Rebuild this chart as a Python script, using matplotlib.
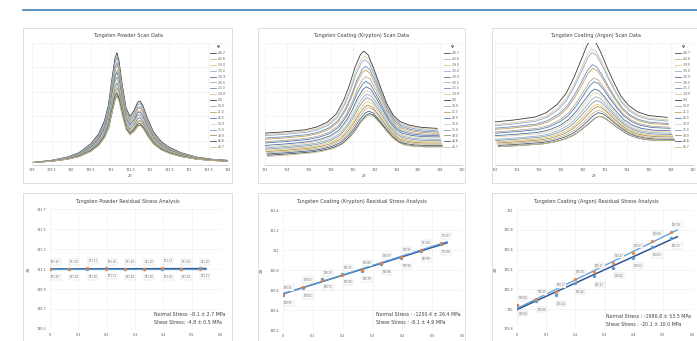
import numpy as np
import matplotlib.pyplot as plt
from matplotlib.patches import Rectangle
from matplotlib.lines import Line2D
from matplotlib.ticker import FuncFormatter

W, H = 697, 341

# psi tilt angles (legend order) and sin^2(psi) positions used in the stress plots
psi = [-46.7, -42.8, -39.0, -35.0, -30.9, -26.5, -21.3, -14.9, 0.0,
       14.9, 21.3, 26.5, 30.9, 35.0, 39.0, 42.8, 46.7]
sin2psi = [0, 0.066, 0.132, 0.198, 0.264, 0.33, 0.396, 0.462, 0.528]

# fitted peak position (2theta) vs sin^2 psi, positive / negative psi branch
pw_pos = [131.10, 131.10, 131.11, 131.10, 131.10, 131.10, 131.11, 131.10, 131.10]
pw_neg = [131.10, 131.10, 131.10, 131.11, 131.10, 131.10, 131.10, 131.10, 131.11]
kr_pos = [130.55, 130.63, 130.70, 130.75, 130.80, 130.87, 130.93, 131.00, 131.07]
kr_neg = [130.55, 130.62, 130.71, 130.76, 130.79, 130.86, 130.92, 130.99, 131.06]
ar_pos = [130.04, 130.10, 130.17, 130.30, 130.37, 130.47, 130.57, 130.69, 130.78]
ar_neg = [130.04, 130.08, 130.14, 130.26, 130.33, 130.42, 130.52, 130.63, 130.72]

# normalised peak profiles
pw_shape_x = [129.0, 129.5, 129.9, 130.2, 130.5, 130.7, 130.85, 130.95, 131.05, 131.12,
              131.17, 131.22, 131.3, 131.4, 131.5, 131.6, 131.7, 131.76, 131.83, 131.95,
              132.1, 132.3, 132.5, 132.8, 133.2, 133.6, 134.0]
pw_shape_y = [0.0, 0.02, 0.05, 0.09, 0.17, 0.26, 0.38, 0.52, 0.78, 0.95,
              1.0, 0.93, 0.72, 0.50, 0.42, 0.47, 0.55, 0.56, 0.52, 0.40,
              0.28, 0.19, 0.14, 0.09, 0.05, 0.03, 0.02]
kr_shape_x = [122, 124, 126, 127, 128, 128.8, 129.5, 130.0, 130.5, 131.0, 131.3,
              131.7, 132.2, 132.8, 133.4, 134.0, 134.6, 135.5, 136.5, 138]
kr_shape_y = [0.0, 0.01, 0.03, 0.06, 0.12, 0.22, 0.40, 0.58, 0.80, 0.96, 1.0,
              0.95, 0.78, 0.55, 0.33, 0.18, 0.10, 0.05, 0.02, 0.0]
ar_shape_x = [122, 124, 126, 127, 128, 128.8, 129.5, 130.2, 130.7, 131.1, 131.5,
              132.0, 132.6, 133.2, 133.8, 134.5, 135.3, 136.3, 138]
ar_shape_y = [0.0, 0.02, 0.05, 0.10, 0.20, 0.33, 0.52, 0.75, 0.92, 1.0, 0.96,
              0.82, 0.62, 0.44, 0.28, 0.16, 0.08, 0.03, 0.0]

# per-scan peak amplitude and background (left end / right end)
pw_amp = [0.55, 0.58, 0.62, 0.66, 0.70, 0.76, 0.82, 0.87, 0.90,
          0.86, 0.80, 0.74, 0.69, 0.65, 0.61, 0.57, 0.54]
pw_base = [0.02] * 17
kr_amp = [0.30, 0.33, 0.36, 0.40, 0.44, 0.50, 0.56, 0.62, 0.65,
          0.60, 0.54, 0.47, 0.42, 0.38, 0.34, 0.31, 0.29]
kr_base_l = [0.08, 0.10, 0.12, 0.14, 0.16, 0.19, 0.22, 0.25, 0.26,
             0.24, 0.21, 0.18, 0.15, 0.13, 0.11, 0.09, 0.07]
kr_base_r = [0.15, 0.17, 0.19, 0.21, 0.23, 0.25, 0.27, 0.29, 0.30,
             0.28, 0.26, 0.24, 0.22, 0.20, 0.18, 0.16, 0.15]
ar_amp = [0.22, 0.25, 0.28, 0.32, 0.36, 0.42, 0.50, 0.60, 0.66,
          0.58, 0.48, 0.40, 0.34, 0.30, 0.27, 0.24, 0.22]
ar_base_l = [0.15, 0.17, 0.19, 0.21, 0.24, 0.27, 0.30, 0.33, 0.35,
             0.32, 0.29, 0.26, 0.23, 0.20, 0.18, 0.16, 0.15]
ar_base_r = [0.20, 0.22, 0.24, 0.26, 0.28, 0.31, 0.34, 0.37, 0.39,
             0.36, 0.33, 0.30, 0.27, 0.25, 0.23, 0.21, 0.20]

titles_top = ["Tungsten Powder Scan Data", "Tungsten Coating (Krypton) Scan Data",
              "Tungsten Coating (Argon) Scan Data"]
titles_bot = ["Tungsten Powder Residual Stress Analysis",
              "Tungsten Coating (Krypton) Residual Stress Analysis",
              "Tungsten Coating (Argon) Residual Stress Analysis"]
stress_text = [("Normal Stress: -8.1 \u00b1 2.7 MPa", "Shear Stress: -4.8 \u00b1 0.5 MPa"),
               ("Normal Stress : -1250.4 \u00b1 26.4 MPa", "Shear Stress : -8.1 \u00b1 4.9 MPa"),
               ("Normal Stress : -1986.8 \u00b1 53.5 MPa", "Shear Stress : -20.1 \u00b1 10.0 MPa")]

colors = ['#2E4C6D', '#C9B37E', '#E3C770', '#9BAFC7', '#4A6FA5', '#B8A99A', '#6C8EBF',
          '#D9C89E', '#3D3D3D', '#8FA9C9', '#C2A35E', '#5A7BA8', '#E0D4A8', '#7F9BB8',
          '#A89060', '#44607F', '#D4BE80']

plt.rcParams['font.family'] = 'DejaVu Sans'
fig = plt.figure(figsize=(W / 100, H / 100), dpi=100)
fmt = FuncFormatter(lambda v, p: f"{v:g}")


def px_axes(x0, y0, x1, y1):
    return fig.add_axes([x0 / W, 1 - y1 / H, (x1 - x0) / W, (y1 - y0) / H])


def centers_for(pos, neg):
    c = []
    for p in psi:
        k = sin2psi_index[abs(p)]
        c.append(pos[k] if p >= 0 else neg[k])
    return np.array(c)


sin2psi_index = {abs(p): i for i, p in enumerate(psi[8:])}

# chart frames and header rule
fig.add_artist(Line2D([23 / W, 1], [1 - 10 / H] * 2, color='#4a8bbf', lw=1.3))
frames = [(23, 28, 232, 183), (258, 28, 465, 183), (492, 28, 699, 183),
          (23, 193, 232, 345), (258, 193, 465, 345), (492, 193, 699, 345)]
for x0, y0, x1, y1 in frames:
    fig.add_artist(Rectangle((x0 / W, 1 - y1 / H), (x1 - x0) / W, (y1 - y0) / H,
                             transform=fig.transFigure, fill=False, ec='#d9d9d9', lw=0.6))

# ---- top row: scan data ----
top_axes = [px_axes(32, 43, 228, 165), px_axes(265, 43, 462, 165), px_axes(495, 43, 693, 165)]
scan_sets = [
    (pw_shape_x, pw_shape_y, pw_amp, pw_base, pw_base, centers_for(pw_pos, pw_neg), (129, 134), np.arange(129, 134.01, 0.5)),
    (kr_shape_x, kr_shape_y, kr_amp, kr_base_l, kr_base_r, centers_for(kr_pos, kr_neg), (122, 140), np.arange(122, 140.1, 2)),
    (ar_shape_x, ar_shape_y, ar_amp, ar_base_l, ar_base_r, centers_for(ar_pos, ar_neg), (122, 140), np.arange(122, 140.1, 2)),
]
for ax, (sx, sy, amp, bl, br, cen, xlim, xt), title, frm in zip(top_axes, scan_sets, titles_top, frames[:3]):
    sx = np.array(sx)
    sy = np.array(sy)
    c0 = cen.mean()
    for i in range(17):
        x = sx + (cen[i] - c0)
        base = bl[i] + (br[i] - bl[i]) * (sx - sx[0]) / (sx[-1] - sx[0])
        ax.plot(x, base + amp[i] * sy, color=colors[i], lw=0.6, label=f"{psi[i]:.1f}")
    ax.set_xlim(*xlim)
    ax.set_ylim(0, 1)
    ax.set_xticks(xt)
    ax.xaxis.set_major_formatter(fmt)
    ax.set_yticks(np.arange(0, 1.01, 0.2))
    ax.set_yticklabels([])
    ax.tick_params(length=0, labelsize=2.4, labelcolor='#595959', pad=2)
    ax.grid(True, color='#ececec', lw=0.4)
    for s in ['top', 'right', 'left']:
        ax.spines[s].set_visible(False)
    ax.spines['bottom'].set_color('#bfbfbf')
    ax.spines['bottom'].set_linewidth(0.5)
    ax.set_xlabel('2\u03b8', fontsize=2.6, color='#595959', labelpad=1.5)
    leg = ax.legend(loc='upper right', bbox_to_anchor=(1.0, 1.0), frameon=False, fontsize=2.2,
                    title='\u03a8', title_fontsize=3, handlelength=2.0, labelspacing=0.62,
                    borderpad=0.2, handletextpad=0.5)
    for t in leg.get_texts():
        t.set_color('#595959')
    fig.text((frm[0] + frm[2]) / 2 / W, 1 - 35 / H, title, ha='center', va='center',
             fontsize=3.6, color='#404040')

# ---- bottom row: residual stress ----
bot_axes = [px_axes(50, 209, 220, 329), px_axes(283, 210, 462, 330), px_axes(517, 210, 692, 329)]
stress_sets = [(pw_pos, pw_neg, (130.5, 131.7)), (kr_pos, kr_neg, (130.2, 131.4)),
               (ar_pos, ar_neg, (129.8, 131.0))]
text_pos = [(154, 314), (376, 315), (606, 316)]
x = np.array(sin2psi)
for ax, (pos, neg, ylim), title, frm, txt, tp in zip(bot_axes, stress_sets, titles_bot,
                                                      frames[3:], stress_text, text_pos):
    pos = np.array(pos)
    neg = np.array(neg)
    xl = np.array([0, 0.55])
    fn = np.polyfit(x, neg, 1)
    fp = np.polyfit(x, pos, 1)
    ax.plot(xl, np.polyval(fn, xl), color='#2F5597', lw=1.1, zorder=2)
    ax.plot(xl, np.polyval(fp, xl), color='#5B9BD5', lw=0.9, zorder=2)
    ax.scatter(x, neg, s=6, color='#5B9BD5', zorder=3, lw=0)
    ax.scatter(x, pos, s=6, color='#ED7D31', zorder=4, lw=0, alpha=0.85)
    bbox = dict(boxstyle='square,pad=0.25', fc='white', ec='#d0d0d0', lw=0.3)
    for i in range(len(x)):
        ax.annotate(f"{pos[i]:.2f}", (x[i], pos[i]), xytext=(4, 5), textcoords='offset points',
                    fontsize=1.8, color='#595959', ha='center', va='center', bbox=bbox, zorder=5)
        ax.annotate(f"{neg[i]:.2f}", (x[i], neg[i]), xytext=(4, -6), textcoords='offset points',
                    fontsize=1.8, color='#595959', ha='center', va='center', bbox=bbox, zorder=5)
    ax.set_xlim(0, 0.6)
    ax.set_ylim(*ylim)
    ax.set_xticks(np.arange(0, 0.61, 0.1))
    ax.set_yticks(np.arange(ylim[0], ylim[1] + 0.01, 0.2))
    ax.xaxis.set_major_formatter(fmt)
    ax.yaxis.set_major_formatter(FuncFormatter(lambda v, p: f"{round(v, 1):g}"))
    ax.tick_params(length=0, labelsize=2.4, labelcolor='#595959', pad=3)
    ax.grid(True, color='#ececec', lw=0.4)
    for s in ax.spines.values():
        s.set_visible(False)
    ax.set_ylabel('2\u03b8', fontsize=3, color='#595959', labelpad=4)
    fig.text((frm[0] + frm[2]) / 2 / W, 1 - 202 / H, title, ha='center', va='center',
             fontsize=3.6, color='#404040')
    fig.text(tp[0] / W, 1 - tp[1] / H, txt[0], fontsize=3.45, color='#404040', va='center')
    fig.text(tp[0] / W, 1 - (tp[1] + 8) / H, txt[1], fontsize=3.45, color='#404040', va='center')

fig.savefig('out.png', dpi=100, facecolor='white')
